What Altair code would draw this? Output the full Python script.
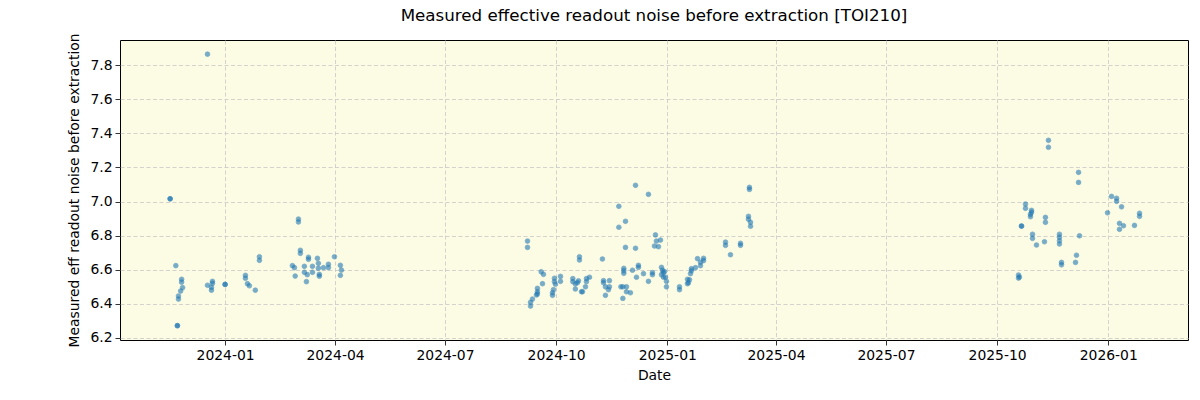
import altair as alt
import pandas as pd

days_2023 = [-14.6, -45.5, -45.5, -40.8, -36.0, -36.0, -35.2, -36.8, -38.6, -38.6,
             -39.5, -39.5, -14.6, -11.3, -11.3, -10.5, -10.5, 0.0, 0.0,
             16.8, 16.8, 18.5, 20.1, 25.0, 28.4, 28.4,
             60.7, 60.7, 55.7, 57.4, 62.3, 62.3, 58.0, 65.6, 65.6, 68.0, 67.3,
             69.0, 69.0, 72.3, 72.3, 76.4, 77.2, 77.2, 78.0, 78.0, 81.4,
             85.5, 85.5, 90.5, 95.4, 95.4, 96.3]
noise_2023 = [7.864, 7.016, 7.016, 6.624, 6.544, 6.527, 6.495, 6.475, 6.446, 6.428,
              6.272, 6.272, 6.509, 6.497, 6.480, 6.532, 6.520, 6.514, 6.514,
              6.567, 6.550, 6.518, 6.506, 6.480, 6.676, 6.655,
              6.897, 6.880, 6.624, 6.612, 6.714, 6.696, 6.563, 6.620, 6.585, 6.571, 6.530,
              6.673, 6.661, 6.620, 6.585, 6.667, 6.638, 6.609, 6.573, 6.562, 6.612,
              6.632, 6.612, 6.676, 6.626, 6.567, 6.598]

days_2024 = [250.3, 250.3, 252.8, 252.8, 254.4, 258.5, 258.5, 258.5, 257.7,
             261.6, 263.5, 262.7, 271.0, 271.0, 271.8, 272.6, 272.6, 273.4,
             277.6, 277.6,
             287.8, 287.8, 289.9, 289.9, 291.6, 292.5, 295.0, 295.8, 298.3, 299.1, 299.1, 301.6,
             293.3, 293.3, 312.3,
             313.2, 313.2, 314.8, 314.8, 318.1, 318.1, 317.3,
             325.9, 325.9, 331.4, 331.4, 339.7, 339.7, 350.4,
             327.6, 329.2, 329.2, 330.0, 330.0, 330.0, 332.2, 332.2, 335.5,
             337.2, 340.5, 342.1, 342.1, 346.3, 350.4, 353.7, 353.7,
             356.2, 357.0, 355.4, 358.7, 360.4,
             361.2, 362.0, 362.8, 363.7, 364.5, 365.3, 365.3, 361.2, 362.8,
             376.1, 376.1,
             382.7, 382.7, 383.5, 384.4, 385.2, 386.0, 386.0, 389.3, 391.0, 393.5, 393.5, 396.0, 396.0,
             414.2, 414.2, 418.3, 426.6, 426.6,
             434.0, 434.0, 433.2, 433.2, 434.9, 434.9]
noise_2024 = [6.768, 6.731, 6.409, 6.387, 6.428, 6.491, 6.471, 6.458, 6.452,
              6.588, 6.573, 6.518, 6.450, 6.465, 6.483, 6.550, 6.530, 6.515,
              6.561, 6.532,
              6.548, 6.530, 6.517, 6.487, 6.524, 6.535, 6.471, 6.471, 6.500, 6.530, 6.548, 6.556,
              6.676, 6.657, 6.663,
              6.536, 6.524, 6.500, 6.450, 6.536, 6.500, 6.483,
              6.972, 6.849, 6.884, 6.731, 7.095, 6.726, 7.042,
              6.500, 6.500, 6.432, 6.608, 6.594, 6.579, 6.500, 6.471, 6.465,
              6.597, 6.556, 6.626, 6.614, 6.577, 6.532, 6.583, 6.571,
              6.804, 6.768, 6.739, 6.735, 6.774,
              6.614, 6.597, 6.583, 6.589, 6.556, 6.532, 6.500, 6.571, 6.556,
              6.500, 6.483,
              6.544, 6.518, 6.524, 6.541, 6.577, 6.606, 6.594, 6.612, 6.665, 6.644, 6.624, 6.667, 6.653,
              6.762, 6.743, 6.688, 6.755, 6.743,
              7.083, 7.071, 6.913, 6.896, 6.878, 6.855]

days_2025 = [681.5, 681.5, 706.4, 706.4, 662.5, 662.5, 667.5, 667.5, 666.6, 666.6,
             659.2, 659.2, 679.0, 679.0, 668.3, 668.3, 671.6, 678.2,
             690.6, 690.6, 690.6, 690.6, 692.3, 692.3, 704.7, 703.9, 707.2,
             656.7, 657.5, 656.7,
             733.7, 730.4, 737.9, 737.9, 742.0, 740.3, 740.3, 743.6, 752.7, 756.9, 756.9]
noise_2025 = [7.359, 7.318, 7.171, 7.112, 6.985, 6.960, 6.948, 6.937, 6.925, 6.911,
              6.856, 6.856, 6.907, 6.878, 6.808, 6.784, 6.745, 6.764,
              6.808, 6.790, 6.770, 6.751, 6.643, 6.629, 6.685, 6.643, 6.799,
              6.569, 6.557, 6.551,
              7.030, 6.934, 7.019, 7.001, 6.969, 6.872, 6.837, 6.858, 6.860, 6.931, 6.913]

days = days_2023 + days_2024 + days_2025
noise = noise_2023 + noise_2024 + noise_2025

y_ticks = [6.2, 6.4, 6.6, 6.8, 7.0, 7.2, 7.4, 7.6, 7.8]
x_tick_labels = ["2024-01", "2024-04", "2024-07", "2024-10", "2025-01",
                 "2025-04", "2025-07", "2025-10", "2026-01"]

base = pd.Timestamp("2024-01-01")
df = pd.DataFrame({
    "date": [(base + pd.Timedelta(days=d)).strftime("%Y-%m-%dT%H:%M:%S") for d in days],
    "noise": noise,
})

x_values = [alt.DateTime(year=int(s[:4]), month=int(s[5:]), date=1, utc=True) for s in x_tick_labels]

chart = alt.Chart(df).mark_circle(
    size=22, opacity=0.6, color="#1f77b4", stroke="#1f77b4", strokeWidth=0.8
).encode(
    x=alt.X("date:T", title="Date",
            scale=alt.Scale(type="utc",
                            domain=[alt.DateTime(year=2023, month=10, date=6, utc=True),
                                    alt.DateTime(year=2026, month=3, date=8, utc=True)]),
            axis=alt.Axis(values=x_values, labelExpr="utcFormat(datum.value, '%Y-%m')")),
    y=alt.Y("noise:Q", title="Measured eff readout noise before extraction",
            scale=alt.Scale(domain=[6.188, 7.947], nice=False, zero=False),
            axis=alt.Axis(values=y_ticks, format=".1f")),
).properties(
    width=1068, height=300,
    title=alt.TitleParams("Measured effective readout noise before extraction [TOI210]",
                          fontSize=16.7, font="DejaVu Sans", fontWeight="normal",
                          color="black", offset=8),
    autosize=alt.AutoSizeParams(type="none"),
    padding={"left": 120, "top": 40, "right": 12, "bottom": 60},
    background="white",
).configure_view(
    fill="#fcfbe3", stroke="black", strokeWidth=1
).configure_axis(
    grid=True, gridColor="#c8c8c8", gridDash=[4, 2.5], gridWidth=0.8,
    domain=False, tickColor="black", tickSize=5, tickWidth=0.8,
    labelFont="DejaVu Sans", labelFontSize=13.9, labelColor="black",
    titleFont="DejaVu Sans", titleFontSize=13.9, titleColor="black",
    titleFontWeight="normal", labelPadding=3,
).configure_axisY(
    titlePadding=8,
).configure_axisX(
    titlePadding=7,
)

chart.save("out.html", embed_options={"renderer": "svg", "actions": False})
